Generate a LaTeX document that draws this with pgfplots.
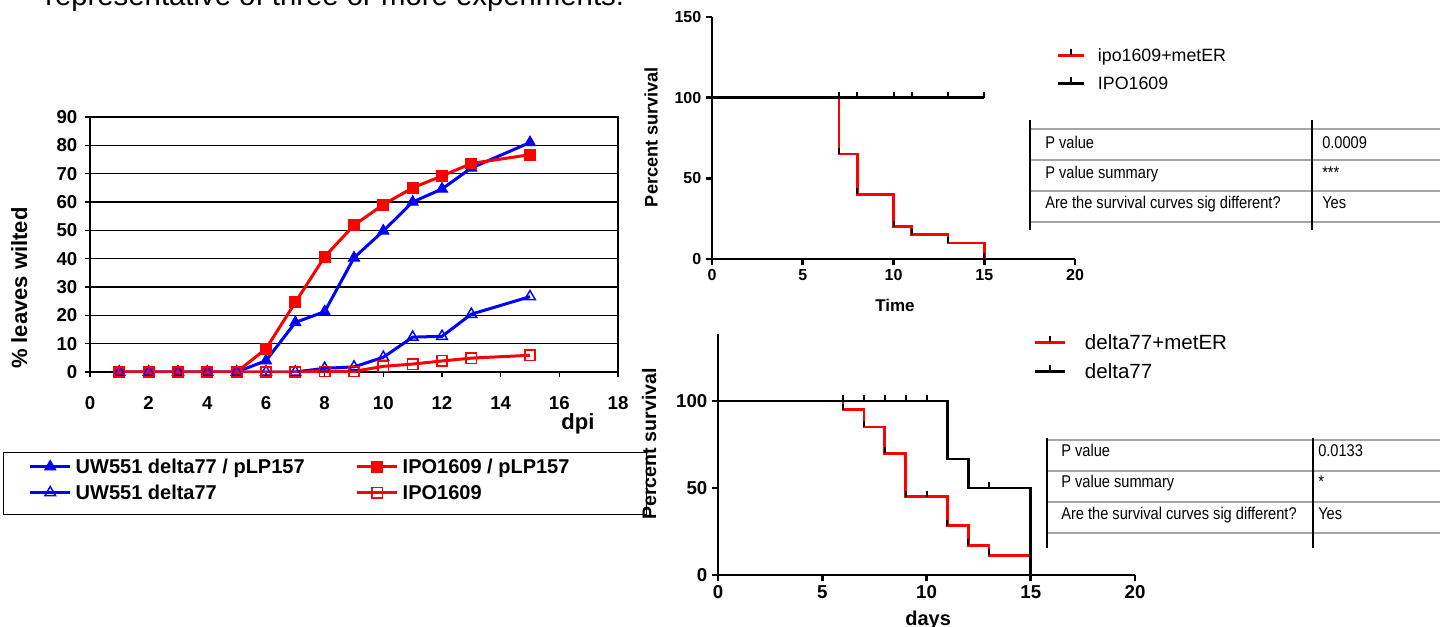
\documentclass[border=0pt]{standalone}
\usepackage{fontspec}
\setmainfont{Liberation Sans}
\usepackage{graphicx}
\usepackage{pgfplots}
\pgfplotsset{compat=1.18}

\definecolor{xlblue}{RGB}{0,0,255}
\definecolor{xlred}{RGB}{255,0,0}
\definecolor{tblgray}{RGB}{165,165,165}

% censored subject: short stroke pointing up from the point
\pgfdeclareplotmark{cens}{%
  \pgfpathmoveto{\pgfpointorigin}%
  \pgfpathlineto{\pgfpoint{0pt}{\pgfplotmarksize}}%
  \pgfusepathqstroke}

\pgfplotsset{
  km axis/.style={
    scale only axis, anchor=south west,
    axis lines=left, axis line style={black, line width=2pt, -},
    tick style={black, line width=2pt},
    tick align=outside, major tick length=4.5pt,
    xmin=0, xmax=20, xtick={0,5,...,20}, ymin=0,
    /pgf/number format/assume math mode=true,
    legend cell align=left,
  },
  km line/.style={const plot, line width=2pt, mark=cens, mark size=4.5pt,
    mark options={black, line width=1.5pt, solid}},
}
\newcommand{\tbl}[1]{\scalebox{0.86}[1]{#1}}

\begin{document}
\begin{tikzpicture}
\useasboundingbox (0pt,0pt) rectangle (1080pt,-470.25pt);
\clip (0pt,0pt) rectangle (1080pt,-470.25pt);

% text and stats tables, in image pixels
\begin{scope}[x=0.75pt, y=-0.75pt]
  \node[anchor=base west, inner sep=0pt, font=\fontsize{22}{26}\selectfont]
    at (45,6) {representative of three or more experiments.};

  \draw[tblgray, line width=1pt] (1030,129) -- (1440,129) (1030,160) -- (1440,160)
    (1030,191) -- (1440,191) (1030,222) -- (1440,222);
  \draw[line width=2.2pt] (1030,120) -- (1030,230) (1312,120) -- (1312,230);
  \draw[tblgray, line width=1pt] (1047,440) -- (1440,440) (1047,471) -- (1440,471)
    (1047,502) -- (1440,502) (1047,533) -- (1440,533);
  \draw[line width=2.2pt] (1047,438) -- (1047,548) (1313,438) -- (1313,548);
  \begin{scope}[every node/.style={anchor=base west, inner sep=0pt,
      font=\fontsize{12.75}{14}\selectfont}]
    \node at (1045,149) {\tbl{P value}};
    \node at (1045,179) {\tbl{P value summary}};
    \node at (1045,209) {\tbl{Are the survival curves sig different?}};
    \node at (1322,149) {\tbl{0.0009}};
    \node at (1322,179) {\tbl{***}};
    \node at (1322,209) {\tbl{Yes}};
    \node at (1061,457) {\tbl{P value}};
    \node at (1061,488) {\tbl{P value summary}};
    \node at (1061,519) {\tbl{Are the survival curves sig different?}};
    \node at (1318,457) {\tbl{0.0133}};
    \node at (1318,488) {\tbl{*}};
    \node at (1318,519) {\tbl{Yes}};
  \end{scope}
\end{scope}

% wilting time course
\begin{axis}[
  at={(67.5pt,-279pt)}, anchor=south west,
  scale only axis, width=396pt, height=191.25pt,
  xmin=0, xmax=18, ymin=0, ymax=90,
  xtick={0,2,...,18}, ytick={0,10,...,90},
  xtick pos=left, ytick pos=left,
  tick align=outside, major tick length=4pt,
  axis line style={black, line width=1.2pt},
  tick style={black, line width=1.2pt},
  ymajorgrids, grid style={black, line width=1pt},
  /pgf/number format/assume math mode=true,
  tick label style={font=\bfseries\fontsize{14}{16}\selectfont},
  xticklabel style={yshift=-11pt},
  yticklabel style={xshift=-2pt},
  label style={font=\bfseries\fontsize{16.5}{19}\selectfont},
  xlabel={dpi},
  xlabel style={at={(axis description cs:0.924,-0.203)}, anchor=center},
  ylabel={\% leaves wilted},
  ylabel style={at={(axis description cs:-0.134,0.329)}, anchor=center},
  legend columns=2,
  legend style={at={(axis description cs:-0.1648,-0.3137)}, anchor=north west,
    draw=black, line width=1.1pt, inner xsep=18.75pt, inner ysep=4.9pt,
    font=\bfseries\fontsize{15}{17}\selectfont,
    nodes={inner sep=0pt, text height=11pt, text depth=6.2pt},
    row sep=2.25pt,
    /tikz/every odd column/.append style={column sep=3pt}},
  legend cell align=left,
  legend image code/.code={\draw[mark repeat=2,mark phase=2,#1,yshift=3pt]
    plot coordinates {(0pt,0pt) (15pt,0pt) (30pt,0pt)};},
]
\addplot[xlblue, line width=2.25pt, mark=triangle*, mark size=4.8pt,
  mark options={fill=xlblue, line width=0.75pt}] coordinates {
  (1,0) (2,0) (3,0) (4,0) (5,0) (6,4) (7,17.5) (8,21.3) (9,40.3)
  (10,49.8) (11,60) (12,64.6) (13,72) (15,81)};
\addlegendentry{\makebox[210pt][l]{UW551 delta77 / pLP157}}
\addplot[xlred, line width=2.25pt, mark=square*, mark size=4.1pt,
  mark options={fill=xlred, line width=0.75pt}] coordinates {
  (1,0) (2,0) (3,0) (4,0) (5,0) (6,8.2) (7,24.6) (8,40.7) (9,51.8)
  (10,59.1) (11,65) (12,69.2) (13,73.6) (15,76.7)};
\addlegendentry{\makebox[164pt][l]{IPO1609 / pLP157}}
\addplot[xlblue, line width=2.25pt, mark=triangle, mark size=4.6pt,
  mark options={line width=1.1pt}] coordinates {
  (1,0) (2,0) (3,0) (4,0) (5,0) (6,0) (7,0) (8,1.3) (9,1.8)
  (10,5.2) (11,12.3) (12,12.6) (13,20.4) (15,26.6)};
\addlegendentry{\makebox[210pt][l]{UW551 delta77}}
\addplot[xlred, line width=2.25pt, mark=square, mark size=3.9pt,
  mark options={line width=1.1pt}] coordinates {
  (1,0) (2,0) (3,0) (4,0) (5,0) (6,0) (7,0) (8,0.2) (9,0.2)
  (10,2) (11,2.8) (12,3.9) (13,4.9) (15,5.9)};
\addlegendentry{\makebox[164pt][l]{IPO1609}}
\end{axis}

% survival, ipo1609
\begin{axis}[km axis,
  at={(534pt,-194.25pt)}, width=272.25pt, height=181.5pt,
  ymax=150, ytick={0,50,100,150},
  tick label style={font=\bfseries\fontsize{12}{14}\selectfont},
  xlabel={Time}, ylabel={Percent survival},
  xlabel style={font=\bfseries\fontsize{12.75}{14}\selectfont,
    at={(axis description cs:0.504,-0.19)}, anchor=center},
  ylabel style={font=\bfseries\fontsize{13.6}{15}\selectfont,
    at={(axis description cs:-0.168,0.504)}, anchor=center},
  legend style={at={(axis description cs:0.9477,0.8694)}, anchor=north west,
    draw=none, fill=none, inner sep=0pt,
    font=\fontsize{13.35}{15}\selectfont,
    nodes={inner sep=0pt, text height=9.6pt, text depth=0pt},
    row sep=11.4pt,
    /tikz/every odd column/.append style={column sep=9.75pt}},
  legend image code/.code={\draw[#1, mark indices={2}]
    plot coordinates {(0pt,0pt) (9.75pt,0pt) (19.5pt,0pt)};},
]
\addplot[km line, xlred, mark indices={2,...,7}] coordinates {
  (0,100) (7,65) (8,40) (10,20) (11,15) (13,10) (15,0)};
\addlegendentry{ipo1609+metER}
\addplot[km line, black, mark indices={2,...,7}] coordinates {
  (0,100) (7,100) (8,100) (10,100) (11,100) (13,100) (15,100)};
\addlegendentry{IPO1609}
\end{axis}

% survival, delta77
\begin{axis}[km axis,
  at={(538.5pt,-431.25pt)}, width=312.75pt, height=180.75pt,
  ymax=138.5, ytick={0,50,100},
  tick label style={font=\bfseries\fontsize{14}{16}\selectfont},
  xlabel={days}, ylabel={Percent survival},
  xlabel style={font=\bfseries\fontsize{15}{17}\selectfont,
    at={(axis description cs:0.504,-0.2075)}, anchor=base},
  ylabel style={font=\bfseries\fontsize{14.7}{16}\selectfont,
    at={(axis description cs:-0.165,0.544)}, anchor=center},
  legend style={at={(axis description cs:0.7554,0.9973)}, anchor=north west,
    draw=none, fill=none, inner sep=0pt,
    font=\fontsize{15.4}{17}\selectfont,
    nodes={inner sep=0pt, text height=11pt, text depth=0pt},
    row sep=10.7pt,
    /tikz/every odd column/.append style={column sep=14.25pt}},
  legend image code/.code={\draw[#1, mark indices={2}]
    plot coordinates {(0pt,0pt) (11.25pt,0pt) (22.5pt,0pt)};},
]
\addplot[km line, xlred, mark indices={2,...,9}] coordinates {
  (0,100) (6,95) (7,85) (8,70) (9,45) (10,45) (11,28.3) (12,17) (13,11.3) (15,0)};
\addlegendentry{delta77+metER}
\addplot[km line, black, mark indices={2,3,4,5,6,9}] coordinates {
  (0,100) (6,100) (7,100) (8,100) (9,100) (10,100) (11,66.7) (12,50) (13,50) (15,0)};
\addlegendentry{delta77}
\end{axis}
\end{tikzpicture}
\end{document}
